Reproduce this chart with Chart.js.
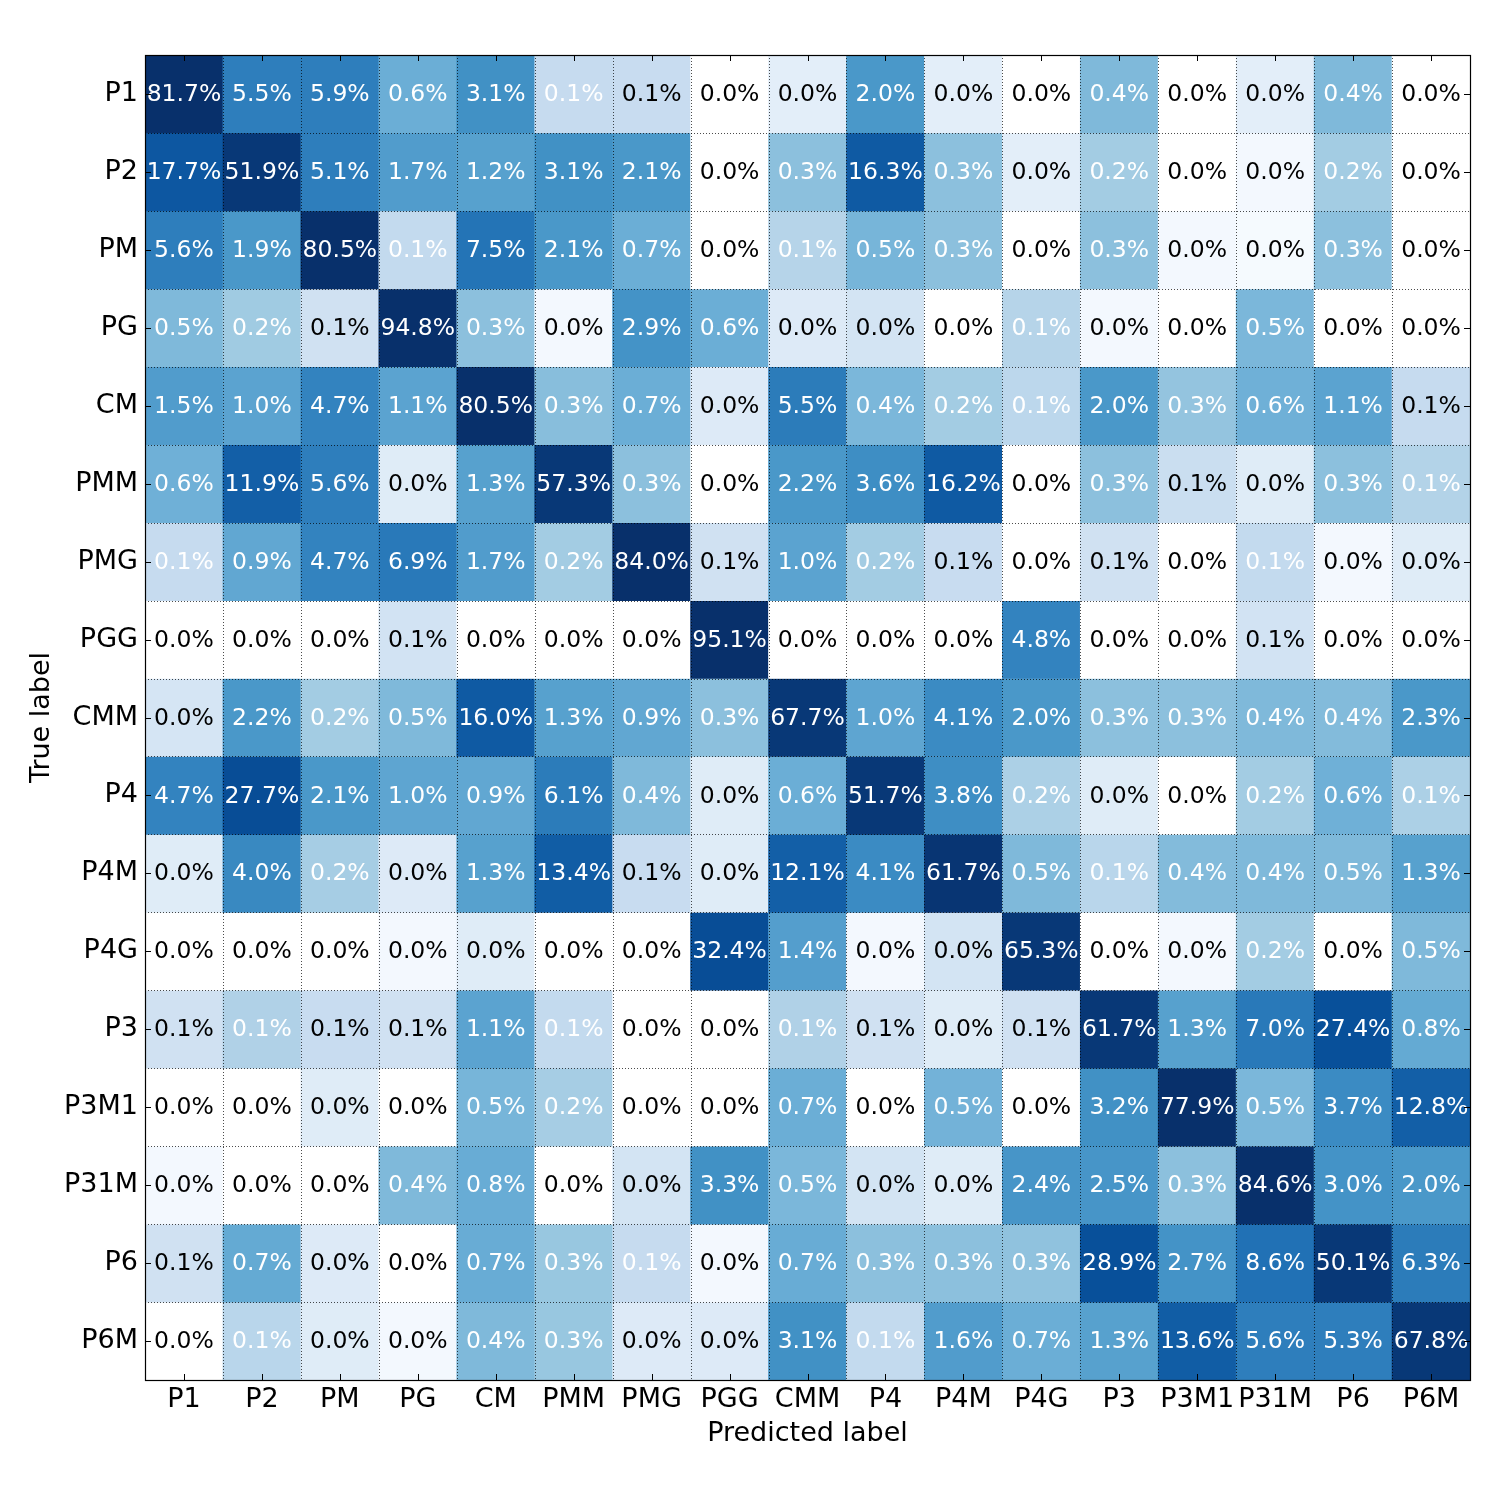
<!DOCTYPE html>
<html>
<head>
<meta charset="utf-8">
<title>Confusion matrix</title>
<script src="https://cdn.jsdelivr.net/npm/chart.js@4.4.1/dist/chart.umd.min.js"></script>
<style>
  html, body { margin: 0; padding: 0; background: #fff; }
  #box { width: 1500px; height: 1500px; }
</style>
</head>
<body>
<div id="box"><canvas id="cm"></canvas></div>
<script>
const trueLabels = ['P1','P2','PM','PG','CM','PMM','PMG','PGG','CMM','P4','P4M','P4G','P3','P3M1','P31M','P6','P6M'];
const predLabels = ['P1','P2','PM','PG','CM','PMM','PMG','PGG','CMM','P4','P4M','P4G','P3','P3M1','P31M','P6','P6M'];

// percentage shown in each cell (row = true label, column = predicted)
const pctValues = [
  [81.7,5.5,5.9,0.6,3.1,0.1,0.1,0.0,0.0,2.0,0.0,0.0,0.4,0.0,0.0,0.4,0.0],
  [17.7,51.9,5.1,1.7,1.2,3.1,2.1,0.0,0.3,16.3,0.3,0.0,0.2,0.0,0.0,0.2,0.0],
  [5.6,1.9,80.5,0.1,7.5,2.1,0.7,0.0,0.1,0.5,0.3,0.0,0.3,0.0,0.0,0.3,0.0],
  [0.5,0.2,0.1,94.8,0.3,0.0,2.9,0.6,0.0,0.0,0.0,0.1,0.0,0.0,0.5,0.0,0.0],
  [1.5,1.0,4.7,1.1,80.5,0.3,0.7,0.0,5.5,0.4,0.2,0.1,2.0,0.3,0.6,1.1,0.1],
  [0.6,11.9,5.6,0.0,1.3,57.3,0.3,0.0,2.2,3.6,16.2,0.0,0.3,0.1,0.0,0.3,0.1],
  [0.1,0.9,4.7,6.9,1.7,0.2,84.0,0.1,1.0,0.2,0.1,0.0,0.1,0.0,0.1,0.0,0.0],
  [0.0,0.0,0.0,0.1,0.0,0.0,0.0,95.1,0.0,0.0,0.0,4.8,0.0,0.0,0.1,0.0,0.0],
  [0.0,2.2,0.2,0.5,16.0,1.3,0.9,0.3,67.7,1.0,4.1,2.0,0.3,0.3,0.4,0.4,2.3],
  [4.7,27.7,2.1,1.0,0.9,6.1,0.4,0.0,0.6,51.7,3.8,0.2,0.0,0.0,0.2,0.6,0.1],
  [0.0,4.0,0.2,0.0,1.3,13.4,0.1,0.0,12.1,4.1,61.7,0.5,0.1,0.4,0.4,0.5,1.3],
  [0.0,0.0,0.0,0.0,0.0,0.0,0.0,32.4,1.4,0.0,0.0,65.3,0.0,0.0,0.2,0.0,0.5],
  [0.1,0.1,0.1,0.1,1.1,0.1,0.0,0.0,0.1,0.1,0.0,0.1,61.7,1.3,7.0,27.4,0.8],
  [0.0,0.0,0.0,0.0,0.5,0.2,0.0,0.0,0.7,0.0,0.5,0.0,3.2,77.9,0.5,3.7,12.8],
  [0.0,0.0,0.0,0.4,0.8,0.0,0.0,3.3,0.5,0.0,0.0,2.4,2.5,0.3,84.6,3.0,2.0],
  [0.1,0.7,0.0,0.0,0.7,0.3,0.1,0.0,0.7,0.3,0.3,0.3,28.9,2.7,8.6,50.1,6.3],
  [0.0,0.1,0.0,0.0,0.4,0.3,0.0,0.0,3.1,0.1,1.6,0.7,1.3,13.6,5.6,5.3,67.8]
];

// colour level of each cell on the Blues map (null = empty / white cell)
const shadeLevels = [
  [1.0,0.7,0.7,0.5,0.63,0.25,0.24,null,0.1,0.6,0.1,null,0.45,null,0.1,0.45,null],
  [0.85,0.97,0.7,0.58,0.56,0.63,0.6,null,0.42,0.84,0.42,0.1,0.36,null,0.02,0.36,null],
  [0.7,0.6,1.0,0.26,0.74,0.6,0.5,null,0.3,0.47,0.42,null,0.42,0.02,0.01,0.42,null],
  [0.45,0.37,0.2,1.0,0.42,0.02,0.62,0.5,0.13,0.18,null,0.3,0.02,null,0.46,null,null],
  [0.58,0.55,0.68,0.55,1.0,0.43,0.5,0.13,0.71,0.46,0.36,0.28,0.6,0.4,0.49,0.55,0.25],
  [0.49,0.82,0.7,0.12,0.56,0.97,0.42,null,0.6,0.64,0.84,null,0.42,0.23,0.12,0.42,0.31],
  [0.25,0.53,0.68,0.72,0.58,0.36,1.0,0.2,0.55,0.36,0.24,null,0.2,null,0.26,0.02,0.12],
  [null,null,null,0.19,null,null,null,1.0,null,null,null,0.68,null,null,0.19,null,null],
  [0.17,0.6,0.36,0.45,0.84,0.56,0.53,0.42,0.97,0.54,0.65,0.6,0.42,0.42,0.45,0.44,0.6],
  [0.68,0.89,0.6,0.54,0.53,0.71,0.45,0.12,0.5,0.97,0.64,0.33,0.12,null,0.36,0.49,0.33],
  [0.12,0.66,0.35,0.13,0.56,0.83,0.24,0.12,0.82,0.65,0.98,0.45,0.29,0.44,0.45,0.45,0.56],
  [null,null,null,0.02,0.12,null,null,0.89,0.57,0.02,0.18,0.97,null,0.02,0.36,null,0.45],
  [0.2,0.32,0.24,0.2,0.55,0.26,null,null,0.32,0.2,0.12,0.2,0.97,0.56,0.72,0.88,0.52],
  [null,null,0.12,null,0.47,0.35,null,null,0.5,null,0.48,null,0.63,1.0,0.46,0.65,0.82],
  [0.02,null,null,0.45,0.51,null,0.18,0.63,0.46,0.18,0.12,0.61,0.61,0.42,1.0,0.62,0.6],
  [0.2,0.52,0.13,null,0.51,0.39,0.25,0.02,0.51,0.42,0.42,0.41,0.88,0.62,0.75,0.97,0.71],
  [null,0.29,0.12,0.02,0.45,0.39,0.13,0.13,0.63,0.26,0.58,0.5,0.56,0.83,0.7,0.7,0.97]
];

// 1 = white text, 0 = black text
const whiteText = [
  [1,1,1,1,1,1,0,0,0,1,0,0,1,0,0,1,0],
  [1,1,1,1,1,1,1,0,1,1,1,0,1,0,0,1,0],
  [1,1,1,1,1,1,1,0,1,1,1,0,1,0,0,1,0],
  [1,1,0,1,1,0,1,1,0,0,0,1,0,0,1,0,0],
  [1,1,1,1,1,1,1,0,1,1,1,1,1,1,1,1,0],
  [1,1,1,0,1,1,1,0,1,1,1,0,1,0,0,1,1],
  [1,1,1,1,1,1,1,0,1,1,0,0,0,0,1,0,0],
  [0,0,0,0,0,0,0,1,0,0,0,1,0,0,0,0,0],
  [0,1,1,1,1,1,1,1,1,1,1,1,1,1,1,1,1],
  [1,1,1,1,1,1,1,0,1,1,1,1,0,0,1,1,1],
  [0,1,1,0,1,1,0,0,1,1,1,1,1,1,1,1,1],
  [0,0,0,0,0,0,0,1,1,0,0,1,0,0,1,0,1],
  [0,1,0,0,1,1,0,0,1,0,0,0,1,1,1,1,1],
  [0,0,0,0,1,1,0,0,1,0,1,0,1,1,1,1,1],
  [0,0,0,1,1,0,0,1,1,0,0,1,1,1,1,1,1],
  [0,1,0,0,1,1,1,0,1,1,1,1,1,1,1,1,1],
  [0,1,0,0,1,1,0,0,1,1,1,1,1,1,1,1,1]
];

// matplotlib "Blues"
const blues = ['#f7fbff','#deebf7','#c6dbef','#9ecae1','#6baed6','#4292c6','#2171b5','#08519c','#08306b'];

function hexToRgb(h) {
  return [parseInt(h.substr(1,2),16), parseInt(h.substr(3,2),16), parseInt(h.substr(5,2),16)];
}

function bluesColor(t) {
  if (t === null) return '#ffffff';
  t = Math.max(0, Math.min(1, t));
  var pos = t * (blues.length - 1);
  var i = Math.min(Math.floor(pos), blues.length - 2);
  var f = pos - i;
  var a = hexToRgb(blues[i]), b = hexToRgb(blues[i+1]);
  var r = Math.round(a[0] + (b[0]-a[0])*f);
  var g = Math.round(a[1] + (b[1]-a[1])*f);
  var bl = Math.round(a[2] + (b[2]-a[2])*f);
  return 'rgb(' + r + ',' + g + ',' + bl + ')';
}

// one stacked dataset per true-label row, each cell one unit tall
var datasets = trueLabels.map(function (lab, r) {
  return {
    label: lab,
    data: predLabels.map(function () { return 1; }),
    backgroundColor: shadeLevels[r].map(bluesColor),
    borderWidth: 0,
    barPercentage: 1.0,
    categoryPercentage: 1.0,
    yAxisID: 'y'
  };
});

// cell text, dotted grid, inward ticks and frame drawn on top of the cells
const overlay = {
  id: 'overlay',
  afterDatasetsDraw: function (chart) {
    var ctx = chart.ctx;
    var area = chart.chartArea;
    var xs = chart.scales.x;
    var ys = chart.scales.y;
    var n = predLabels.length;
    var half = (xs.getPixelForValue(1) - xs.getPixelForValue(0)) / 2;

    ctx.save();
    ctx.font = '23.5px "DejaVu Sans"';
    ctx.textAlign = 'center';
    ctx.textBaseline = 'middle';
    for (var r = 0; r < trueLabels.length; r++) {
      for (var c = 0; c < n; c++) {
        ctx.fillStyle = whiteText[r][c] ? '#ffffff' : '#000000';
        ctx.fillText(pctValues[r][c].toFixed(1) + '%', xs.getPixelForValue(c), ys.getPixelForValue(r + 0.5) + 1);
      }
    }

    ctx.strokeStyle = 'rgba(0,0,0,0.7)';
    ctx.lineWidth = 1;
    ctx.setLineDash([1, 2]);
    ctx.beginPath();
    for (var k = 1; k < n; k++) {
      var gx = Math.round(xs.getPixelForValue(k) - half) + 0.5;
      ctx.moveTo(gx, area.top);
      ctx.lineTo(gx, area.bottom);
      var gy = Math.round(ys.getPixelForValue(k)) + 0.5;
      ctx.moveTo(area.left, gy);
      ctx.lineTo(area.right, gy);
    }
    ctx.stroke();
    ctx.setLineDash([]);

    ctx.strokeStyle = '#000';
    ctx.beginPath();
    for (var t = 0; t < n; t++) {
      var tx = Math.round(xs.getPixelForValue(t)) + 0.5;
      ctx.moveTo(tx, area.top); ctx.lineTo(tx, area.top + 6);
      ctx.moveTo(tx, area.bottom); ctx.lineTo(tx, area.bottom - 6);
      var ty = Math.round(ys.getPixelForValue(t + 0.5)) + 0.5;
      ctx.moveTo(area.left, ty); ctx.lineTo(area.left + 6, ty);
      ctx.moveTo(area.right, ty); ctx.lineTo(area.right - 6, ty);
    }
    ctx.stroke();

    ctx.lineWidth = 1.2;
    ctx.strokeRect(Math.round(area.left) + 0.5, Math.round(area.top) + 0.5,
      Math.round(area.right - area.left), Math.round(area.bottom - area.top));
    ctx.restore();
  }
};

Chart.defaults.font.family = '"DejaVu Sans"';
Chart.defaults.color = '#000';

new Chart(document.getElementById('cm').getContext('2d'), {
  type: 'bar',
  data: { labels: predLabels, datasets: datasets },
  options: {
    responsive: true,
    maintainAspectRatio: false,
    animation: false,
    layout: { padding: { top: 55, right: 30, left: 0, bottom: 0 } },
    plugins: { legend: { display: false }, tooltip: { enabled: false } },
    scales: {
      x: {
        type: 'category',
        stacked: true,
        offset: true,
        grid: { display: false, drawTicks: false },
        border: { display: false },
        ticks: { font: { size: 27 }, padding: 4, maxRotation: 0, autoSkip: false },
        title: { display: true, text: 'Predicted label', font: { size: 27 }, padding: { top: 0, bottom: 50 } },
        afterFit: function (s) { s.height = 120; }
      },
      y: {
        type: 'linear',
        stacked: true,
        min: 0,
        max: 17,
        reverse: true,
        display: false
      },
      yLab: {
        type: 'category',
        position: 'left',
        labels: trueLabels,
        offset: true,
        grid: { display: false, drawTicks: false },
        border: { display: false },
        ticks: { font: { size: 27 }, padding: 7, autoSkip: false },
        title: { display: true, text: 'True label', font: { size: 27 }, padding: { top: 26, bottom: 0 } },
        afterFit: function (s) { s.width = 145; }
      }
    }
  },
  plugins: [overlay]
});
</script>
</body>
</html>
